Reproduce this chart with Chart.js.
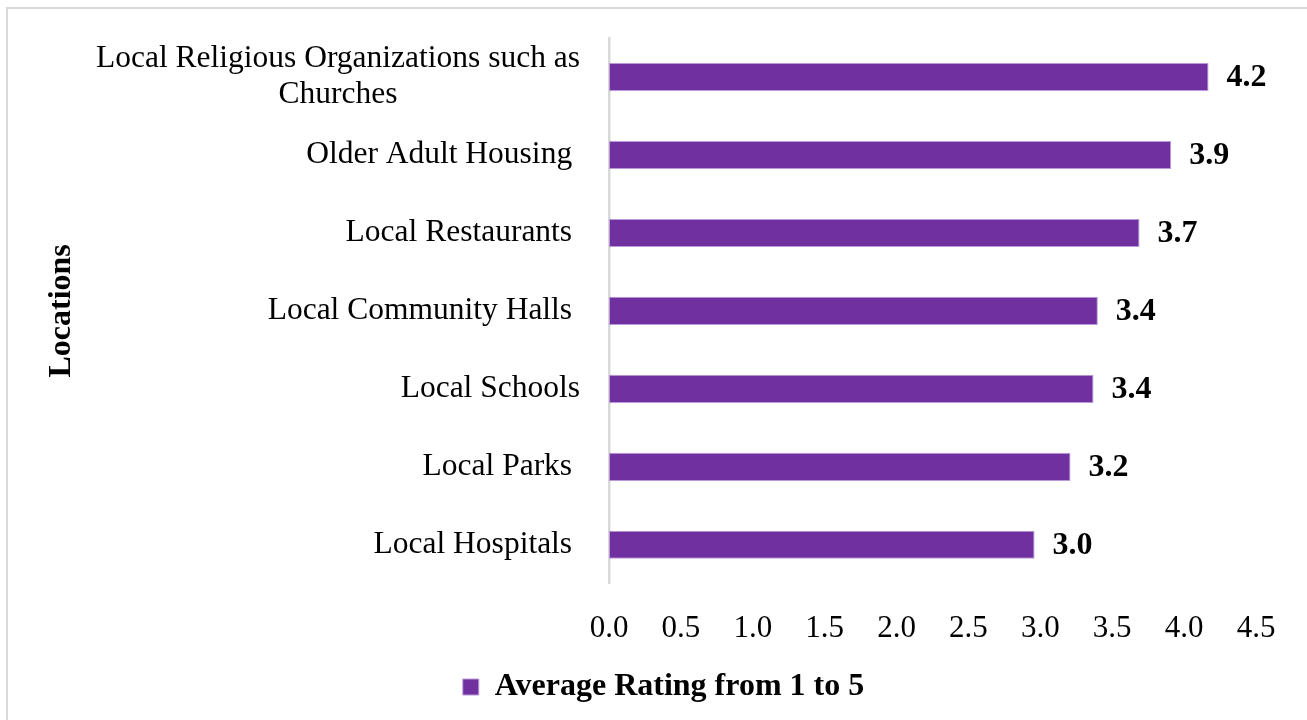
<!DOCTYPE html>
<html>
<head>
<meta charset="utf-8">
<script src="https://cdn.jsdelivr.net/npm/chart.js@4.4.1/dist/chart.umd.min.js"></script>
<style>
  html, body { margin: 0; padding: 0; background: #fff; }
  #wrap { position: relative; width: 1307px; height: 720px; overflow: hidden; }
</style>
</head>
<body>
<div id="wrap"><canvas id="ratingChart" width="1307" height="720"></canvas></div>
<script>
const locations = [
  ["Local Religious Organizations such as", "Churches"],
  "Older Adult Housing ",
  "Local Restaurants ",
  "Local Community Halls ",
  "Local Schools",
  "Local Parks ",
  "Local Hospitals "
];
const avgRating = [4.17, 3.91, 3.69, 3.40, 3.37, 3.21, 2.96];
const xTicks = [0, 0.5, 1, 1.5, 2, 2.5, 3, 3.5, 4, 4.5];

const FONT = "'Liberation Serif', 'Times New Roman', serif";
const PURPLE = "#7030A0";

// light grey frame round the whole chart
const frame = {
  id: "frame",
  beforeDraw(chart) {
    const c = chart.ctx;
    c.save();
    c.strokeStyle = "#d9d9d9";
    c.lineWidth = 2;
    c.strokeRect(7, 8, 1400, 800);
    c.restore();
  }
};

// category names, right aligned; wrapped names centred on their widest line
const catLabels = {
  id: "catLabels",
  afterDraw(chart) {
    const c = chart.ctx;
    const y = chart.scales.y;
    const right = chart.chartArea.left - 29;
    c.save();
    c.font = "31.5px " + FONT;
    c.fillStyle = "#000";
    c.textBaseline = "middle";
    locations.forEach((lab, i) => {
      const cy = y.getPixelForTick(i);
      const lines = Array.isArray(lab) ? lab : [lab];
      const w = Math.max(...lines.map(l => c.measureText(l).width));
      const lh = 36;
      lines.forEach((l, k) => {
        const ly = cy + (k - (lines.length - 1) / 2) * lh;
        if (lines.length > 1) {
          c.textAlign = "center";
          c.fillText(l, right - w / 2, ly);
        } else {
          c.textAlign = "right";
          c.fillText(l, right, ly);
        }
      });
    });
    c.restore();
  }
};

// value at the end of each bar
const barValues = {
  id: "barValues",
  afterDatasetsDraw(chart) {
    const c = chart.ctx;
    const meta = chart.getDatasetMeta(0);
    c.save();
    c.font = "bold 32px " + FONT;
    c.fillStyle = "#000";
    c.textAlign = "left";
    c.textBaseline = "middle";
    meta.data.forEach((bar, i) => {
      c.fillText(avgRating[i].toFixed(1), bar.x + 18, bar.y + 1);
    });
    c.restore();
  }
};

new Chart(document.getElementById("ratingChart"), {
  type: "bar",
  data: {
    labels: locations,
    datasets: [{
      label: "Average Rating from 1 to 5",
      data: avgRating,
      backgroundColor: PURPLE,
      borderColor: "#b99ad8",
      borderWidth: 1,
      borderSkipped: false,
      categoryPercentage: 1,
      barPercentage: 0.36
    }]
  },
  options: {
    indexAxis: "y",
    responsive: false,
    animation: false,
    layout: { padding: { left: 71, top: 38, right: 51, bottom: 7 } },
    scales: {
      x: {
        min: 0,
        max: 4.5,
        afterBuildTicks: s => { s.ticks = xTicks.map(v => ({ value: v })); },
        ticks: {
          color: "#000",
          padding: 26,
          font: { family: FONT, size: 31 },
          callback: v => Number(v).toFixed(1)
        },
        grid: { display: false, drawTicks: false },
        border: { display: false }
      },
      y: {
        ticks: { display: false },
        grid: { display: false, drawTicks: false },
        border: { display: true, color: "#d9d9d9", width: 2.5 },
        title: {
          display: true,
          text: "Locations",
          color: "#000",
          padding: { top: -28, bottom: 0 },
          font: { family: FONT, size: 32, weight: "bold" }
        },
        afterFit: s => { s.width = 538; }
      }
    },
    plugins: {
      tooltip: { enabled: false },
      legend: {
        position: "bottom",
        labels: {
          color: "#000",
          boxWidth: 16,
          boxHeight: 16,
          padding: -2,
          font: { family: FONT, size: 32, weight: "bold" }
        }
      }
    }
  },
  plugins: [frame, catLabels, barValues]
});
</script>
</body>
</html>
